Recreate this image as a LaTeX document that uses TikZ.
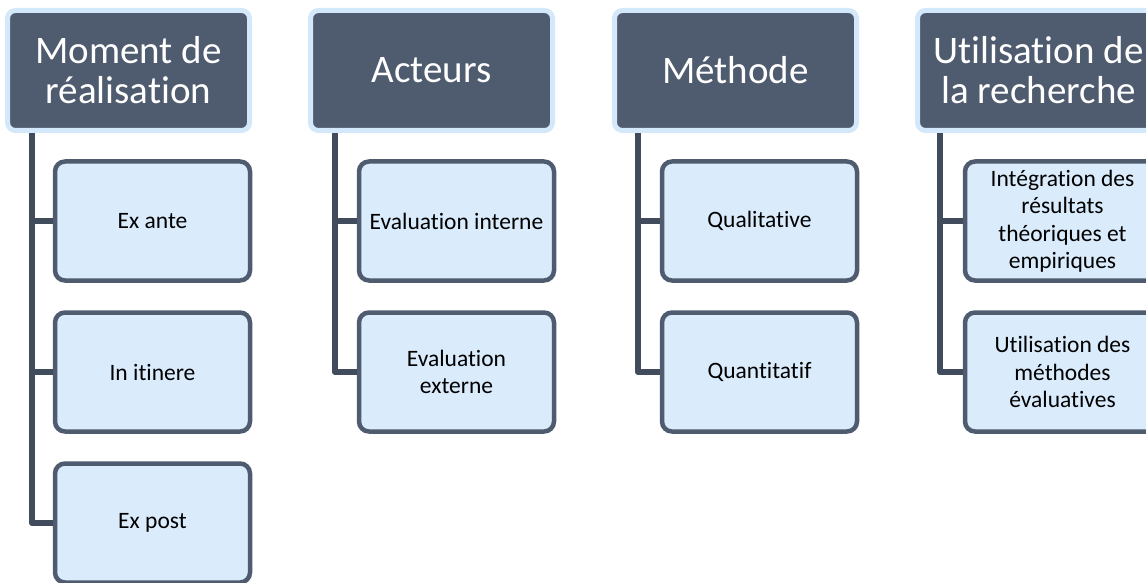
\documentclass[tikz,border=0pt]{standalone}
\usepackage{fontspec}
\setmainfont[Ligatures=NoCommon]{Carlito}
\definecolor{slate}{RGB}{79,91,110}
\definecolor{slateline}{RGB}{64,75,92}
\definecolor{paleblue}{RGB}{218,235,252}
\definecolor{haloblue}{RGB}{212,232,251}
\begin{document}
\begin{tikzpicture}[x=1pt,y=-1pt]
        % Styles
        \tikzstyle{header}=[rectangle,rounded corners=8pt,fill=slate,draw=haloblue,line width=5pt,
                            minimum width=242pt,minimum height=120pt,align=center,text=white,
                            font=\fontsize{39}{40}\selectfont]
        \tikzstyle{item}=[rectangle,rounded corners=10pt,fill=paleblue,draw=slate,line width=4.5pt,
                          minimum width=195pt,minimum height=119pt,align=center,text=black,
                          font=\fontsize{23.5}{27.5}\selectfont]
        \tikzstyle{branch}=[draw=slateline,line width=6pt,line join=round]
        \useasboundingbox (0,0) rectangle (1146,583);
        %headers
        \node[header] (moment) at (128.5,70.5) {Moment de\\réalisation};
        \node[header] (acteurs) at (431.5,70.5) {Acteurs};
        \node[header] (methode) at (735.5,70.5) {Méthode};
        \node[header] (usage) at (1038.5,70.5) {Utilisation de\\la recherche};
        %children
        \node[item] (exante) at (152.5,221) {Ex ante};
        \node[item] (itinere) at (152.5,372) {In itinere};
        \node[item] (expost) at (152.5,523) {Ex post};
        \node[item] (interne) at (456.5,221) {Evaluation interne};
        \node[item] (externe) at (456.5,372) {Evaluation\\externe};
        \node[item] (quali) at (759.5,221) {Qualitative};
        \node[item] (quanti) at (759.5,372) {Quantitatif};
        \node[item] (integration) at (1062.5,221) {Intégration des\\résultats\\théoriques et\\empiriques};
        \node[item] (methodes) at (1062.5,372) {Utilisation des\\méthodes\\évaluatives};
        %branches
        \path (moment.south west) ++(27,0) coordinate (mtop);
        \path (acteurs.south west) ++(27,0) coordinate (atop);
        \path (methode.south west) ++(26,0) coordinate (qtop);
        \path (usage.south west) ++(25,0) coordinate (utop);
        \draw[branch] (mtop) |- (expost.west);
        \draw[branch] (exante.west) -- (exante.west -| mtop);
        \draw[branch] (itinere.west) -- (itinere.west -| mtop);
        \draw[branch] (atop) |- (externe.west);
        \draw[branch] (interne.west) -- (interne.west -| atop);
        \draw[branch] (qtop) |- (quanti.west);
        \draw[branch] (quali.west) -- (quali.west -| qtop);
        \draw[branch] (utop) |- (methodes.west);
        \draw[branch] (integration.west) -- (integration.west -| utop);
\end{tikzpicture}
\end{document}
